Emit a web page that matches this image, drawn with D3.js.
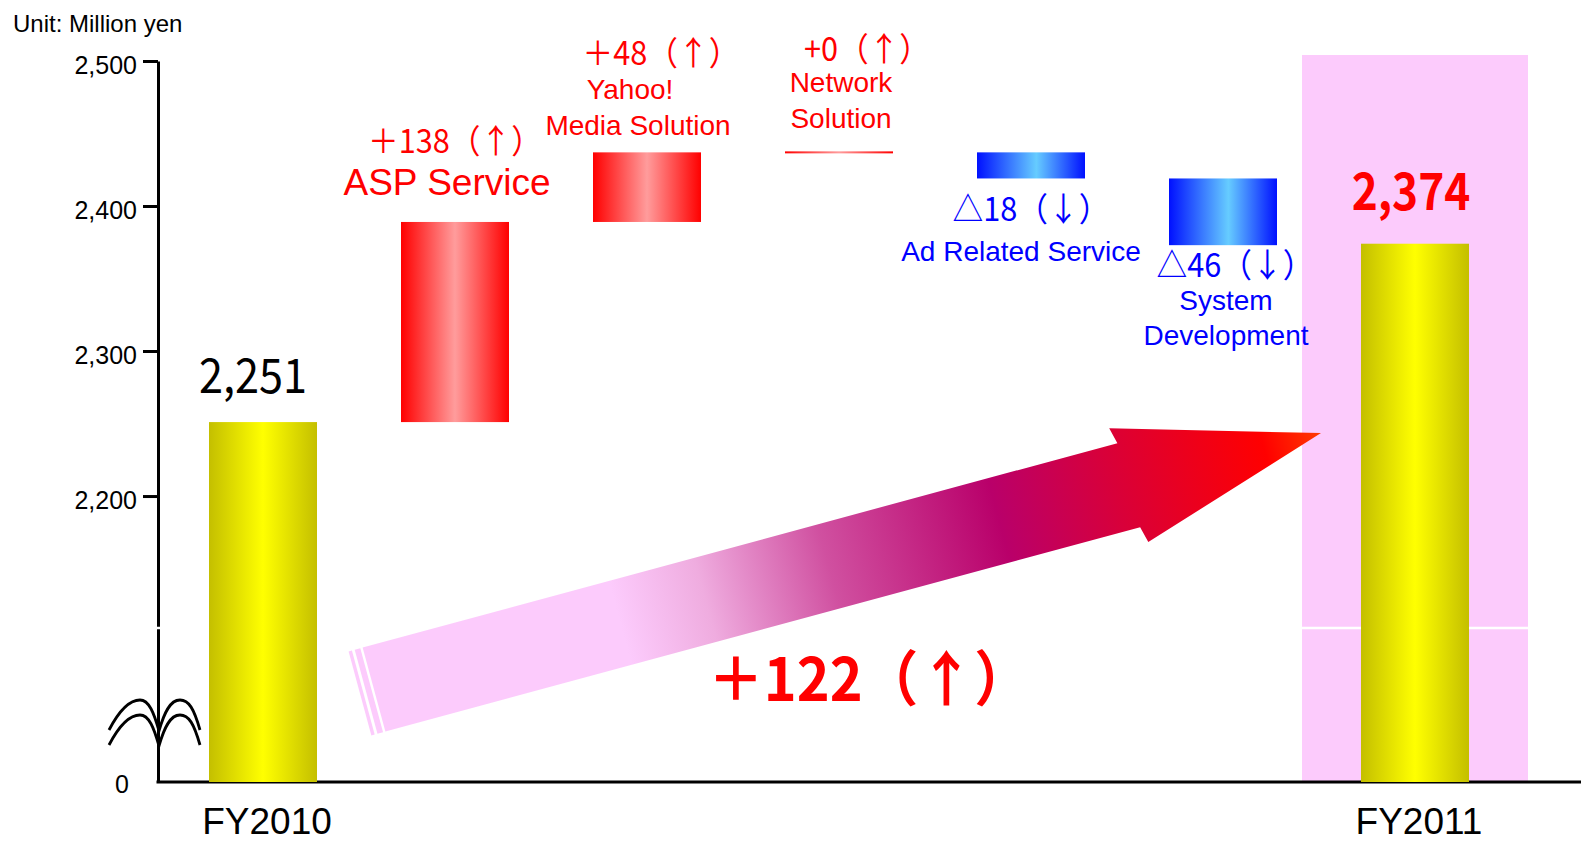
<!DOCTYPE html>
<html><head><meta charset="utf-8">
<script src="https://cdn.jsdelivr.net/npm/d3@7"></script>
<style>html,body{margin:0;padding:0;background:#fff;overflow:hidden}</style>
</head><body><svg id="chart" width="1581" height="842"></svg>
<script>
// ---------- data ----------
const categories = ["FY2010","ASP Service","Yahoo! Media Solution","Network Solution","Ad Related Service","System Development","FY2011"];
const nameLines = [[], ["ASP Service"], ["Yahoo!","Media Solution"], ["Network","Solution"], ["Ad Related Service"], ["System","Development"], []];
const startTotal = 2251;
const changes = [138, 48, 0, -18, -46];
const endTotal = 2374;
const changeLabels = ["＋138（↑）","＋48（↑）","+0（↑）","△18（↓）","△46（↓）"];
const totalLabels = ["2,251","2,374"];
const yTicks = [0, 2200, 2300, 2400, 2500];
const yMax = 2500;
const yBreak = 2109;
const netLabel = "＋122（↑）";
const unitLabel = "Unit: Million yen";

// ---------- setup ----------
const W = 1581, H = 842;
const svg = d3.select("#chart");
const LATIN = "'Liberation Sans', Arial, sans-serif";
const CJK = "'Noto Sans CJK JP', 'Noto Sans CJK SC', sans-serif";

const x = d3.scaleBand().domain(categories).range([167, 1511]).paddingInner(0.4375).paddingOuter(0.21875);
const y = d3.scaleLinear().domain([0, yBreak, yMax]).range([782, 628, 61]);
const bw = x.bandwidth();
const axisX = 158;

const defs = svg.append("defs");
function hGrad(id, stops) {
  const g = defs.append("linearGradient").attr("id", id).attr("x1", 0).attr("x2", 1).attr("y1", 0).attr("y2", 0);
  stops.forEach(s => g.append("stop").attr("offset", s[0]).attr("stop-color", s[1]));
}
hGrad("gYellow", [[0, "#c4bf00"], [0.5, "#ffff00"], [1, "#c4bf00"]]);
hGrad("gRed", [[0, "#ff0000"], [0.5, "#ff9c9c"], [1, "#ff0000"]]);
hGrad("gBlue", [[0, "#0010ff"], [0.55, "#66ccff"], [1, "#0010ff"]]);

// text helper; squeeze < 1 condenses glyphs horizontally (taller, narrower look)
function txt(s, tx, ty, o) {
  const t = svg.append("text").attr("x", tx).attr("y", ty).text(s)
    .attr("font-family", o.family || LATIN).attr("font-size", o.size)
    .attr("fill", o.fill || "#000").attr("text-anchor", o.anchor || "middle");
  if (o.weight) t.attr("font-weight", o.weight);
  if (o.squeeze) {
    const n = t.node().getComputedTextLength();
    t.attr("textLength", n * o.squeeze).attr("lengthAdjust", "spacingAndGlyphs");
  }
  return t;
}

// ---------- highlight box behind FY2011 ----------
const last = categories[categories.length - 1];
const boxPad = 59;
svg.append("rect")
  .attr("x", x(last) - boxPad).attr("width", bw + 2 * boxPad)
  .attr("y", y(yMax) - 6).attr("height", y(0) - y(yMax) + 6)
  .attr("fill", "#fccbfc");

// ---------- axes ----------
const yAxis = d3.axisLeft(y).tickValues(yTicks).tickSize(15).tickSizeOuter(0).tickPadding(6).tickFormat(d3.format(","));
const gY = svg.append("g").attr("transform", `translate(${axisX},0)`).call(yAxis);
gY.attr("font-family", LATIN).attr("font-size", 25);
gY.select(".domain").attr("stroke", "#000").attr("stroke-width", 3);
gY.selectAll(".tick line").attr("stroke", "#000").attr("stroke-width", 3);
gY.selectAll(".tick text").attr("fill", "#000").attr("dy", "0.5em");
gY.selectAll(".tick").filter(d => d === 0).each(function () {
  d3.select(this).select("line").remove();
  d3.select(this).select("text").attr("x", -29).attr("dy", "0.42em");
});

const xAxis = d3.axisBottom(x).tickValues([categories[0], last]).tickSize(0).tickSizeOuter(0);
const gX = svg.append("g").attr("transform", `translate(0,${y(0)})`).call(xAxis);
gX.select(".domain").remove();
gX.attr("font-family", LATIN).attr("font-size", 37);
gX.selectAll(".tick text").attr("fill", "#000").attr("x", 4).attr("y", 52).attr("dy", 0);
svg.append("line").attr("x1", axisX - 1.5).attr("x2", W).attr("y1", y(0)).attr("y2", y(0))
  .attr("stroke", "#000").attr("stroke-width", 3);

// white break line across axis and highlight box
svg.append("line").attr("x1", axisX - 3).attr("x2", x(last) + bw + boxPad + 1)
  .attr("y1", y(yBreak)).attr("y2", y(yBreak)).attr("stroke", "#fff").attr("stroke-width", 2.5);

// ---------- bars ----------
const totals = [{cat: categories[0], v: startTotal}, {cat: last, v: endTotal}];
svg.selectAll("rect.total").data(totals).enter().append("rect").attr("class", "total")
  .attr("x", d => x(d.cat)).attr("width", bw)
  .attr("y", d => y(d.v)).attr("height", d => y(0) - y(d.v))
  .attr("fill", "url(#gYellow)");

let run = startTotal;
const steps = changes.map((c, i) => {
  const s = {cat: categories[i + 1], from: run, to: run + c, c: c, label: changeLabels[i], names: nameLines[i + 1]};
  run += c;
  return s;
});
svg.selectAll("rect.step").data(steps).enter().append("rect").attr("class", "step")
  .attr("x", d => x(d.cat)).attr("width", bw)
  .attr("y", d => d.c === 0 ? y(d.to) - 1 : y(Math.max(d.from, d.to)))
  .attr("height", d => d.c === 0 ? 2 : Math.abs(y(d.from) - y(d.to)))
  .attr("fill", d => d.c >= 0 ? "url(#gRed)" : "url(#gBlue)");

// ---------- big arrow ----------
const tail = [x(categories[0]) + bw + 57, y(yBreak) + 0.4 * (y(0) - y(yBreak))];
const tip = [x(last) - 40, y(startTotal) + 11];
const dxA = tip[0] - tail[0], dyA = tip[1] - tail[1];
const L = Math.hypot(dxA, dyA), ang = Math.atan2(dyA, dxA) * 180 / Math.PI;
const sh = 43.5, hh = 60, hl = 0.203 * L;
const ag = defs.append("linearGradient").attr("id", "gArrow").attr("gradientUnits", "userSpaceOnUse")
  .attr("x1", 0).attr("y1", 0).attr("x2", L).attr("y2", 0);
[[0, "#fccbfc"], [0.26, "#fccbfc"], [0.35, "#efacdf"], [0.48, "#d050a0"], [0.66, "#b9006a"], [0.78, "#d8003a"], [0.94, "#ff0000"], [1, "#ff3a00"]]
  .forEach(s => ag.append("stop").attr("offset", s[0]).attr("stop-color", s[1]));
const gA = svg.append("g").attr("transform", `translate(${tail[0]},${tail[1]}) rotate(${ang})`);
const hb = L - hl;
gA.append("path").attr("d", `M0,${-sh} L${hb},${-sh} L${hb - 4},${-hh} L${L},0 L${hb + 4},${hh} L${hb},${sh} L0,${sh} Z`)
  .attr("fill", "url(#gArrow)");
[[-8.2, -2.4], [-14.5, -11.1]].forEach(s => {
  gA.append("rect").attr("x", s[0]).attr("width", s[1] - s[0]).attr("y", -sh).attr("height", 2 * sh).attr("fill", "#fccbfc");
});

// ---------- axis break symbol ----------
const by = y(0) - 51;
[0, 15].forEach(off => {
  svg.append("path")
    .attr("transform", `translate(${axisX},${by + off})`)
    .attr("d", "M-49,-1 C-38,-22 -27,-31 -18,-31 C-9,-31 -4,-18 1,0 C6,-18 12,-31 22,-31 C31,-31 36,-22 42,-1")
    .attr("fill", "none").attr("stroke", "#000").attr("stroke-width", 2.8);
});

// ---------- labels ----------
txt(unitLabel, 13, 32, {size: 24, anchor: "start"});

// total labels
txt(totalLabels[0], x(categories[0]) + bw / 2 - 10, y(startTotal) - 29, {family: CJK, size: 48, squeeze: 0.9});
txt(totalLabels[1], x(last) + bw / 2 - 4, y(endTotal) - 34, {family: CJK, size: 52, weight: "bold", fill: "#ff0000", squeeze: 0.85});

// change labels layout: delta dx/dy, then name lines (dx, dy, size)
const layout = [
  {d: [0, -69], n: [[-8, -27, 37]]},
  {d: [14, -87], n: [[-17, -53, 28], [-9, -17, 28]]},
  {d: [28, -91], n: [[2, -60, 28], [2, -24, 28]]},
  {d: [0, 42.5], n: [[-10, 82.5, 28]]},
  {d: [12, 32], n: [[3, 65, 28], [3, 100, 28]]}
];
steps.forEach((s, i) => {
  const cx = x(s.cat) + bw / 2;
  const col = s.c >= 0 ? "#ff0000" : "#0000ff";
  const ref = s.c >= 0 ? y(Math.max(s.from, s.to)) : y(Math.min(s.from, s.to));
  const lo = layout[i];
  txt(s.label, cx + lo.d[0], ref + lo.d[1], {family: CJK, size: 33, fill: col, squeeze: 0.93});
  s.names.forEach((nm, j) => {
    const n = lo.n[j];
    txt(nm, cx + n[0], ref + n[1], {size: n[2], fill: col});
  });
});

// net change label
txt(netLabel, (x(categories[0]) + x(last) + bw) / 2 + 30, y(0) - 81, {family: CJK, size: 60, weight: "bold", fill: "#ff0000", squeeze: 0.93});
</script></body></html>
